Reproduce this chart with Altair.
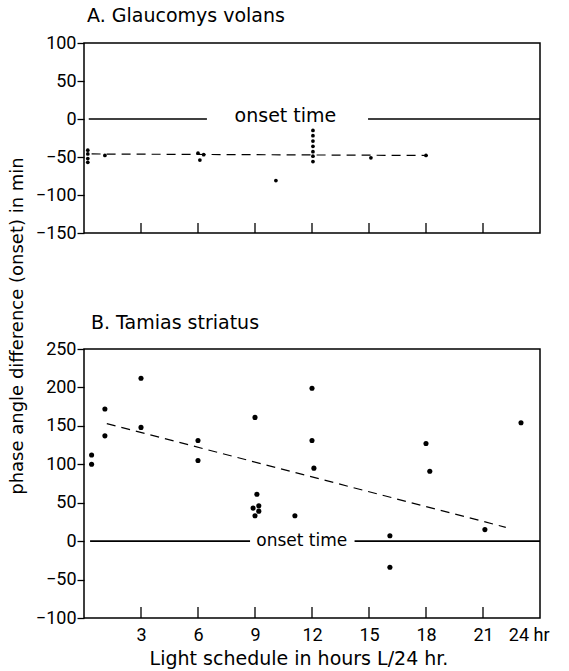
import altair as alt
import pandas as pd

NUM_FONT = "Roboto"
TXT_FONT = "DejaVu Sans"

# ---------------- data ----------------
# Panel A: Glaucomys volans
a_hours = [0.2, 0.2, 0.2, 0.2, 1.1, 6.0, 6.3, 6.1, 10.1,
           12.05, 12.05, 12.05, 12.05, 12.05, 12.05, 12.05, 15.1, 18.0]
a_phase = [-41, -46, -52, -57, -48, -45, -47, -54, -81,
           -15, -22, -29, -36, -43, -49, -56, -51, -48]
a_fit_hours = [0.4, 18.1]
a_fit_phase = [-46, -48]
a_zero_from = [0.25, 14.95]
a_zero_to = [6.47, 24]

# Panel B: Tamias striatus
b_hours = [0.4, 0.4, 1.1, 1.1, 3.0, 3.0, 6.0, 6.0, 9.0, 9.1, 9.2, 8.9, 9.2, 9.0,
           11.1, 12.0, 12.0, 12.1, 16.1, 16.1, 18.0, 18.2, 21.1, 23.0]
b_phase = [112, 100, 172, 137, 212, 148, 131, 105, 161, 61, 46, 43, 39, 33,
           33, 199, 131, 95, 7, -34, 127, 91, 15, 154]
b_fit_hours = [1.2, 22.2]
b_fit_phase = [153, 18]
b_zero_from = [0.32, 14.24]
b_zero_to = [8.74, 24]

x_ticks = [3, 6, 9, 12, 15, 18, 21]
b_x_labels = [3, 6, 9, 12, 15, 18, 21, 24]
a_y_ticks = [100, 50, 0, -50, -100, -150]
b_y_ticks = [250, 200, 150, 100, 50, 0, -50, -100]

title_a = "A. Glaucomys  volans"
title_b = "B. Tamias striatus"
y_title = "phase angle difference (onset) in min"
x_title = "Light schedule in hours L/24 hr."
onset_label = "onset time"
a_onset_pos = [10.6]
b_onset_pos = [11.46]

# ---------------- layout ----------------
W = 456
HA = 190
HB = 269

x_scale = alt.Scale(domain=[0, 24], nice=False, zero=False)
ya_scale = alt.Scale(domain=[-150, 100], nice=False, zero=False)
yb_scale = alt.Scale(domain=[-100, 250], nice=False, zero=False)


def y_axis(vals):
    return alt.Axis(values=vals, tickSize=7, tickColor="black", tickWidth=1.3,
                    labelPadding=1, labelFontSize=18, labelFont=NUM_FONT,
                    labelColor="black", domain=False, grid=False, title=None)


def panel(hours, phase, fit_h, fit_p, z_from, z_to, onset_pos, yscale, yvals, H,
          tick_len, xaxis, dot_size, dash_y_offset, onset_size):
    pts = pd.DataFrame({"h": hours, "p": phase})
    fit = pd.DataFrame({"h": fit_h, "p": fit_p})
    zero = pd.DataFrame({"h0": z_from, "h1": z_to, "p": [0] * len(z_from)})
    ticks = pd.DataFrame({"h": x_ticks})
    onset = pd.DataFrame({"h": onset_pos, "p": [0], "t": [onset_label]})

    X = alt.X("h:Q", scale=x_scale, axis=xaxis)
    Y = alt.Y("p:Q", scale=yscale, axis=y_axis(yvals))

    base_pts = alt.Chart(pts).mark_circle(size=dot_size, color="black", opacity=1).encode(x=X, y=Y)
    fit_line = alt.Chart(fit).mark_line(color="black", strokeWidth=1.2,
                                        strokeDash=[9, 6]).encode(x=X, y=Y)
    zero_rule = alt.Chart(zero).mark_rule(color="black", strokeWidth=1.6).encode(
        x=alt.X("h0:Q", scale=x_scale, axis=xaxis), x2="h1:Q", y=Y)
    tick_rule = alt.Chart(ticks).mark_rule(color="black", strokeWidth=1.3).encode(
        x=alt.X("h:Q", scale=x_scale, axis=xaxis),
        y=alt.value(H), y2=alt.value(H - tick_len))
    onset_text = alt.Chart(onset).mark_text(font=TXT_FONT, fontSize=onset_size, color="black",
                                            baseline="middle", align="center",
                                            dy=dash_y_offset).encode(x=X, y=Y, text="t:N")
    return [zero_rule, tick_rule, fit_line, base_pts, onset_text]


xaxis_a = alt.Axis(labels=False, ticks=False, domain=False, grid=False, title=None)
xaxis_b = alt.Axis(values=b_x_labels, ticks=False, domain=False, grid=False, title=None,
                   labelPadding=8, labelFontSize=18, labelFont=NUM_FONT, labelColor="black",
                   labelExpr="datum.value == 24 ? '24 hr' : datum.value",
                   labelOffset={"condition": {"test": "datum.value == 24", "value": 9},
                                "value": 0})

layers_a = panel(a_hours, a_phase, a_fit_hours, a_fit_phase, a_zero_from, a_zero_to,
                 a_onset_pos, ya_scale, a_y_ticks, HA, 10, xaxis_a, 14, -3, 19)
layers_b = panel(b_hours, b_phase, b_fit_hours, b_fit_phase, b_zero_from, b_zero_to,
                 b_onset_pos, yb_scale, b_y_ticks, HB, 11, xaxis_b, 26, 0, 17)

t_a = alt.Chart(pd.DataFrame({"t": [title_a]})).mark_text(
    font=TXT_FONT, fontSize=19, color="black", align="left", baseline="middle").encode(
    x=alt.value(3), y=alt.value(-27), text="t:N")
t_ytitle = alt.Chart(pd.DataFrame({"t": [y_title]})).mark_text(
    font=TXT_FONT, fontSize=18, color="black", align="center", baseline="middle",
    angle=270).encode(x=alt.value(-66), y=alt.value(283), text="t:N")
t_b = alt.Chart(pd.DataFrame({"t": [title_b]})).mark_text(
    font=TXT_FONT, fontSize=19, color="black", align="left", baseline="middle").encode(
    x=alt.value(7), y=alt.value(-26), text="t:N")
t_x = alt.Chart(pd.DataFrame({"t": [x_title]})).mark_text(
    font=TXT_FONT, fontSize=19, color="black", align="center", baseline="middle").encode(
    x=alt.value(215), y=alt.value(HB + 41), text="t:N")

chart_a = alt.layer(*layers_a, t_a, t_ytitle).properties(width=W, height=HA)
chart_b = alt.layer(*layers_b, t_b, t_x).properties(width=W, height=HB)

chart = alt.vconcat(chart_a, chart_b, spacing=116, bounds="flush").properties(
    padding={"left": 8, "top": 6, "right": 2, "bottom": 2},
    background="white"
).configure_view(stroke="black", strokeWidth=1.5)

chart.save("out.html", embed_options={"renderer": "svg", "actions": False})
